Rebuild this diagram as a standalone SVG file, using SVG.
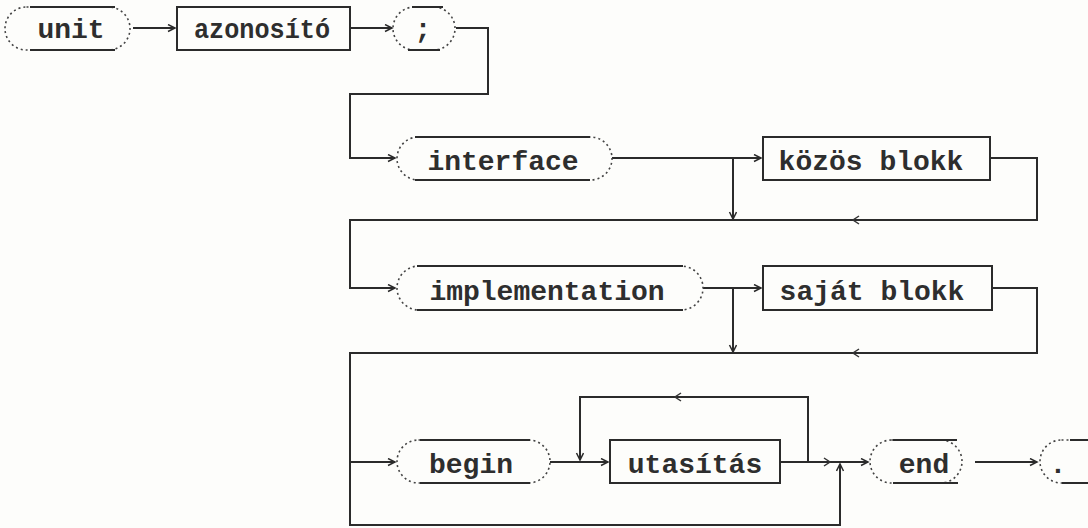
<svg xmlns="http://www.w3.org/2000/svg" width="1088" height="528" viewBox="0 0 1088 528">
  <style>
    .bg { fill: #fdfdfb; }
    .line { fill: none; stroke: #2b2b2b; stroke-width: 2; }
    .box { fill: none; stroke: #2b2b2b; stroke-width: 2; }
    .ovalEnd { fill: none; stroke: #444; stroke-width: 1.6; stroke-dasharray: 2 3; }
    .ovalSide { fill: none; stroke: #2b2b2b; stroke-width: 2; }
    .tick { fill: none; stroke: #333; stroke-width: 1.5; }
    .lbl { font-family: "Liberation Mono", "DejaVu Sans Mono", monospace; font-weight: bold; font-size: 28px; fill: #2e2e2e; text-anchor: middle; }
  </style>
  <defs>
    <marker id="arrow" markerUnits="userSpaceOnUse" markerWidth="10" markerHeight="10" refX="8" refY="4" orient="auto">
      <path d="M1,0.5 L8,4 L1,7.5" fill="none" stroke="#2b2b2b" stroke-width="1.5"/>
    </marker>
  </defs>

  <rect class="bg" x="0" y="0" width="1088" height="528"/>

  <!-- connectors -->
  <g id="connectors">
    <!-- first row -->
    <path class="line" d="M133,28 H175" marker-end="url(#arrow)"/>
    <path class="line" d="M350,28 H392" marker-end="url(#arrow)"/>
    <path class="line" d="M456,28 H488 V94 H350 V158 H395" marker-end="url(#arrow)"/>

    <!-- interface row -->
    <path class="line" d="M612,158 H761" marker-end="url(#arrow)"/>
    <path class="line" d="M733,158 V219" marker-end="url(#arrow)"/>
    <path class="line" d="M990,158 H1037 V220 H350 V288 H395" marker-end="url(#arrow)"/>
    <path class="tick" d="M859,216 L853,220 L859,224"/>

    <!-- implementation row -->
    <path class="line" d="M703,288 H761" marker-end="url(#arrow)"/>
    <path class="line" d="M733,288 V352" marker-end="url(#arrow)"/>
    <path class="line" d="M992,288 H1037 V353 H350 V462 H395" marker-end="url(#arrow)"/>
    <path class="tick" d="M859,349 L853,353 L859,357"/>

    <!-- begin row -->
    <path class="line" d="M350,460 V525 H840 V464" marker-end="url(#arrow)"/>
    <path class="line" d="M550,462 H608" marker-end="url(#arrow)"/>
    <path class="line" d="M780,462 H808 V397 H580 V460" marker-end="url(#arrow)"/>
    <path class="tick" d="M681,393 L675,397 L681,401"/>
    <path class="line" d="M808,462 H868" marker-end="url(#arrow)"/>
    <path class="tick" d="M824,458 L830,462 L824,466"/>
    <path class="line" d="M975,462 H1037" marker-end="url(#arrow)"/>
  </g>

  <!-- unit -->
  <g id="node-unit">
    <rect class="ovalEnd" x="5" y="7" width="125" height="43" rx="21.5"/>
    <path class="ovalSide" d="M30,7 H115 M30,50 H115"/>
    <text class="lbl" x="71" y="38">unit</text>
  </g>

  <!-- azonosító -->
  <g id="node-azonosito">
    <rect class="box" x="177" y="7" width="173" height="43"/>
    <text class="lbl" x="262" y="38" textLength="136" lengthAdjust="spacingAndGlyphs">azonosító</text>
  </g>

  <!-- ; -->
  <g id="node-semicolon">
    <rect class="ovalEnd" x="393" y="7" width="62" height="43" rx="21.5"/>
    <path class="ovalSide" d="M412,7 H443 M408,50 H440"/>
    <text class="lbl" x="423" y="38">;</text>
  </g>

  <!-- interface -->
  <g id="node-interface">
    <rect class="ovalEnd" x="397" y="137" width="215" height="43" rx="21.5"/>
    <path class="ovalSide" d="M415,137 H590 M415,180 H590"/>
    <text class="lbl" x="503" y="170">interface</text>
  </g>

  <!-- közös blokk -->
  <g id="node-kozos-blokk">
    <rect class="box" x="763" y="137" width="227" height="43"/>
    <text class="lbl" x="871" y="170">közös blokk</text>
  </g>

  <!-- implementation -->
  <g id="node-implementation">
    <rect class="ovalEnd" x="397" y="266" width="306" height="44" rx="22"/>
    <path class="ovalSide" d="M417,266 H683 M417,310 H683"/>
    <text class="lbl" x="547" y="300">implementation</text>
  </g>

  <!-- saját blokk -->
  <g id="node-sajat-blokk">
    <rect class="box" x="763" y="266" width="229" height="44"/>
    <text class="lbl" x="872" y="300">saját blokk</text>
  </g>

  <!-- begin -->
  <g id="node-begin">
    <rect class="ovalEnd" x="397" y="440" width="153" height="43" rx="21.5"/>
    <path class="ovalSide" d="M420,440 H530 M420,483 H530"/>
    <text class="lbl" x="471" y="473">begin</text>
  </g>

  <!-- utasítás -->
  <g id="node-utasitas">
    <rect class="box" x="610" y="440" width="170" height="43"/>
    <text class="lbl" x="695" y="473">utasítás</text>
  </g>

  <!-- end -->
  <g id="node-end">
    <rect class="ovalEnd" x="870" y="440" width="92" height="43" rx="21.5"/>
    <path class="ovalSide" d="M893,440 H957 M893,483 H958"/>
    <text class="lbl" x="924" y="473">end</text>
  </g>

  <!-- . -->
  <g id="node-dot">
    <rect class="ovalEnd" x="1040" y="440" width="80" height="43" rx="21.5"/>
    <path class="ovalSide" d="M1070,440 H1088 M1062,483 H1088"/>
    <text class="lbl" x="1058" y="473">.</text>
  </g>
</svg>
